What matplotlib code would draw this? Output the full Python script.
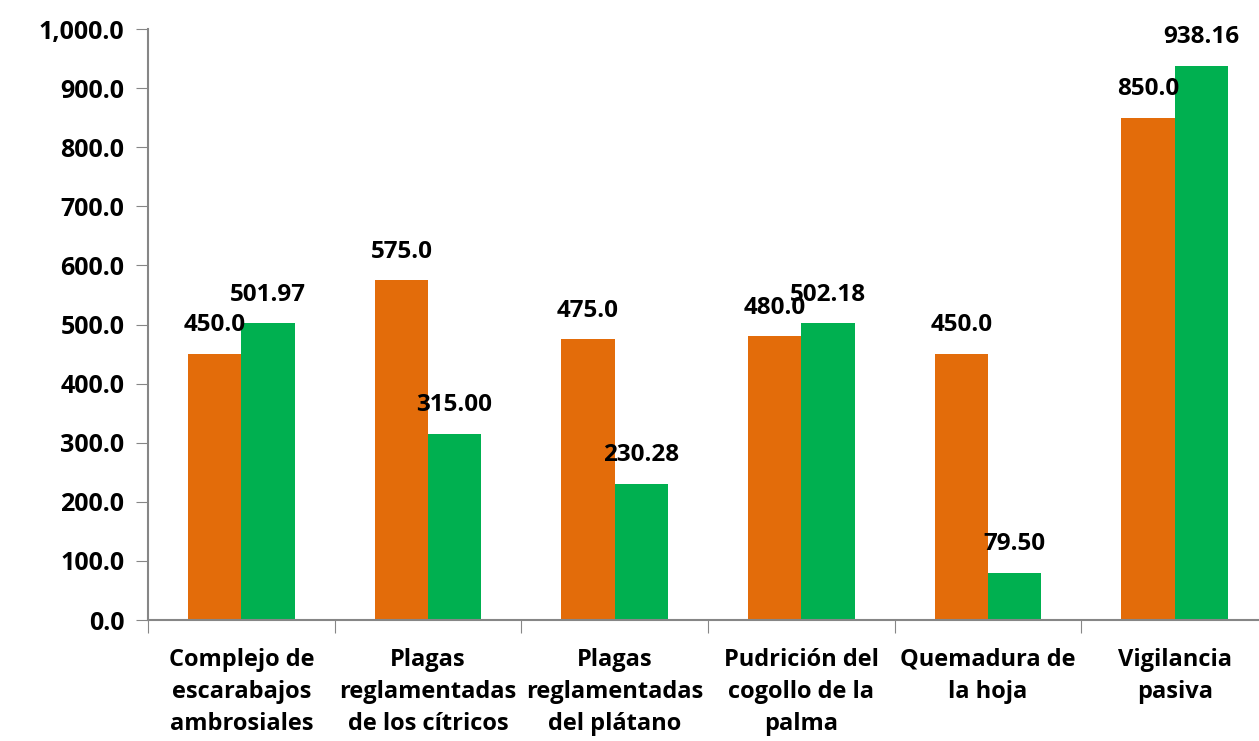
import numpy as np
import matplotlib.pyplot as plt
from matplotlib.ticker import FuncFormatter, FixedLocator

categorias = ['Complejo de\nescarabajos\nambrosiales',
              'Plagas\nreglamentadas\nde los cítricos',
              'Plagas\nreglamentadas\ndel plátano',
              'Pudrición del\ncogollo de la\npalma',
              'Quemadura de\nla hoja',
              'Vigilancia\npasiva']
programado = [450.0, 575.0, 475.0, 480.0, 450.0, 850.0]
ejercido = [501.97, 315.00, 230.28, 502.18, 79.50, 938.16]

naranja = '#E36C0A'
verde = '#00B050'
gris = '#868686'

plt.rcParams['font.family'] = ['Open Sans', 'DejaVu Sans']
plt.rcParams['font.weight'] = 'bold'

fig = plt.figure(figsize=(12.59, 7.41), dpi=100)
ax = fig.add_axes([148/1259, 121/741, 1120/1259, 591/741])

x = np.arange(len(categorias))
ancho = 0.285
b1 = ax.bar(x - ancho/2, programado, ancho, color=naranja)
b2 = ax.bar(x + ancho/2, ejercido, ancho, color=verde)

# etiquetas de datos sobre cada barra
for barra, v in zip(b1, programado):
    ax.annotate(f'{v:.1f}', (barra.get_x() + barra.get_width()/2, v),
                xytext=(0, 12), textcoords='offset points',
                ha='center', va='bottom', fontsize=17.5, fontweight='bold')
for barra, v in zip(b2, ejercido):
    ax.annotate(f'{v:.2f}', (barra.get_x() + barra.get_width()/2, v),
                xytext=(0, 12), textcoords='offset points',
                ha='center', va='bottom', fontsize=17.5, fontweight='bold')

ax.set_xlim(-0.5, len(categorias) - 0.5)
ax.set_ylim(0, 1000)
ax.set_yticks(np.arange(0, 1001, 100))
ax.yaxis.set_major_formatter(FuncFormatter(lambda v, p: f'{v:,.1f}'))

# marcas entre categorias, nombres centrados
ax.xaxis.set_major_locator(FixedLocator(np.arange(-0.5, len(categorias), 1)))
ax.xaxis.set_major_formatter(FuncFormatter(lambda v, p: ''))
ax.set_xticks(x, minor=True)
ax.set_xticklabels(categorias, minor=True, fontsize=17, fontweight='bold',
                   linespacing=1.45)
ax.tick_params(axis='x', which='minor', length=0, pad=20)
ax.tick_params(axis='x', which='major', length=9, color=gris, direction='out')
ax.tick_params(axis='y', length=9, color=gris, direction='out', labelsize=18, pad=8)

for lado in ['top', 'right']:
    ax.spines[lado].set_visible(False)
for lado in ['left', 'bottom']:
    ax.spines[lado].set_color(gris)
    ax.spines[lado].set_linewidth(1.5)

fig.savefig('out.png', dpi=100)
